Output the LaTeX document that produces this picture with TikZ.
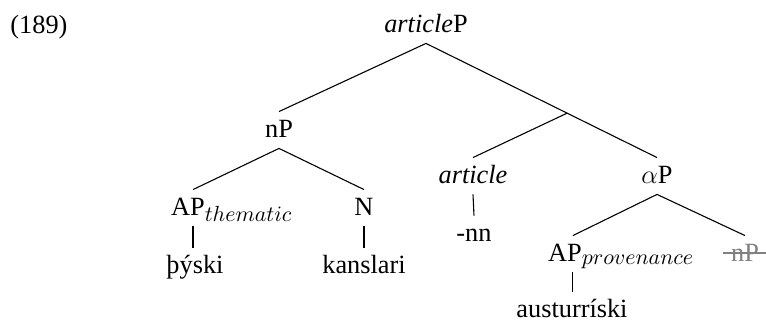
\documentclass[12pt,tikz,border=0pt]{standalone}
\usepackage{fontspec}
\setmainfont{Liberation Serif}
\DeclareMathSizes{12}{12}{9.6}{7}
\usetikzlibrary{arrows.meta}

\begin{document}
\begin{tikzpicture}[
    x=0.456pt, y=-0.456pt,
    cat/.style={anchor=base, inner xsep=1pt, inner ysep=3pt,
                text height=8.4pt, text depth=2pt},
    branch/.style={line width=0.5pt},
    gone/.style={cat, text=gray},
    strike/.style={gray, line width=1.2pt}
  ]
  \useasboundingbox (0,0) rectangle (766,321);

  %% example number
  \node (exnum) [anchor=base west, inner sep=0pt] at (10,33) {(189)};

  %% root and the empty node under it
  \node (artP) [cat] at (426,32) {\textit{article}P};
  \node (nP)   [cat] at (279,137) {nP};
  \node (aP)   [cat] at (657,183) {$\alpha$P};
  \coordinate (jn) at (567,113.2);
  \draw[branch] (artP.south) -- (nP.north);
  \draw[branch] (artP.south) -- (aP.north);

  %% article head
  \node (art) [cat] at (473,183) {\textit{article}};
  \node (nn)  [cat] at (474,241) {-nn};
  \draw[branch] (jn) -- (art.north);
  \draw[branch] (art.south) -- (nn.north);

  %% nP
  \node (apth) [cat] at (188,215) {AP\rlap{$_{thematic}$}};
  \node (N)    [cat] at (364,215) {N};
  \draw[branch] (nP.south) -- ([xshift=2.3pt]apth.north);
  \draw[branch] (nP.south) -- (N.north);
  \node (thy) [cat] at (195,273) {þýski};
  \node (kan) [cat] at (364,273) {kanslari};
  \draw[branch] ([xshift=2.3pt]apth.south) -- ([xshift=2.3pt]apth.south |- thy.north);
  \draw[branch] (N.south) -- (N.south |- kan.north);

  %% alphaP
  \node (approv) [cat]  at (565,261) {AP\rlap{$_{provenance}$}};
  \node (snp)    [gone] at (745,261) {nP};
  \draw[branch] (aP.south) -- ([xshift=3.6pt]approv.north);
  \draw[branch] (aP.south) -- (snp.north);
  \draw[strike] ([xshift=-2.6pt, yshift=3.6pt]snp.base west)
             -- ([xshift=2.6pt, yshift=3.6pt]snp.base east);
  \node (aust) [cat] at (572,317) {austurríski};
  \draw[branch] ([xshift=3.6pt]approv.south) -- ([xshift=3.6pt]approv.south |- aust.north);

\end{tikzpicture}
\end{document}
